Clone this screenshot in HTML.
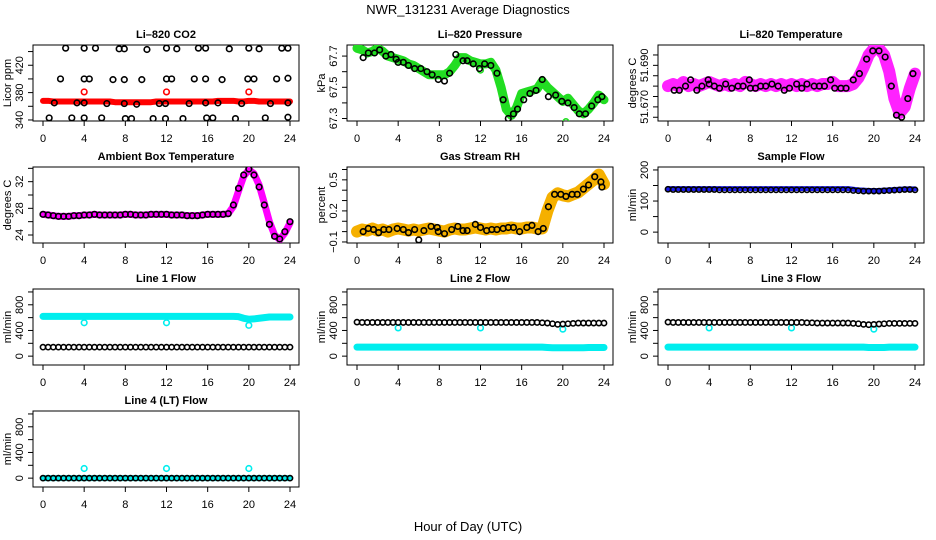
<!DOCTYPE html>
<html><head><meta charset="utf-8"><style>
html,body{margin:0;padding:0;background:#fff;}
svg{display:block;font-family:"Liberation Sans",sans-serif;}
</style></head><body>
<svg id="chart" width="936" height="540" viewBox="0 0 936 540">
<text x="468" y="14" text-anchor="middle" font-size="13">NWR_131231  Average Diagnostics</text>
<text x="468" y="531" text-anchor="middle" font-size="13">Hour of Day (UTC)</text>
</svg>
<script>
const HH=[0,0.5,1,1.5,2,2.5,3,3.5,4,4.5,5,5.5,6,6.5,7,7.5,8,8.5,9,9.5,10,10.5,11,11.5,12,12.5,13,13.5,14,14.5,15,15.5,16,16.5,17,17.5,18,18.5,19,19.5,20,20.5,21,21.5,22,22.5,23,23.5,24];
const xTicks=[0,4,8,12,16,20,24];
// CO2
const co2Band=[368,368,367,367,367,367,367,367,367,367,367,367,367,367,366,366,366,366,366,366,366,366,367,367,367,367,367,367,367,367,367,367,367,367,368,368,368,368,367,367,368,368,367,367,367,367,367,367,367];
const co2PtsH=[2.2,4,5.1,7.4,7.9,10.1,12,13,15.1,15.8,18.1,20,21,23.2,23.8, 1.7,4,4.5,6.8,7.9,9.6,12,12.5,14.7,15.8,17.4,19.9,20.5,22.7,23.8, 1.1,3.3,4,6.2,7.9,9.1,11.3,11.9,14.2,15.8,17,19.3,22.1,23.8, 0.6,2.8,4,5.7,8,8.6,10.7,11.9,13.6,15.9,16.5,18.7,21.6,23.8];
const co2PtsV=[445,445,445,444,444,443,445,444,445,445,444,445,444,445,445, 400,400,400,399,399,399,400,400,400,400,399,400,400,400,401, 365,365,365,364,364,363,364,364,364,365,365,364,364,365, 343,343,343,343,342,342,342,342,342,343,343,342,343,344];
const co2RedH=[4,12,20];
const co2RedV=[381,381,381];
// Pressure
const presBand=[67.75,67.74,67.72,67.73,67.75,67.73,67.70,67.69,67.68,67.67,67.65,67.64,67.62,67.60,67.58,67.58,67.58,67.58,67.60,67.64,67.69,67.69,67.67,67.66,67.65,67.65,67.66,67.61,67.50,67.36,67.32,67.37,67.46,67.47,67.48,67.49,67.54,67.50,67.47,67.44,67.41,67.43,67.39,67.35,67.33,67.36,67.40,67.45,67.42];
const presPtsH=[0.6,1.1,1.7,2.2,2.8,3.3,3.8,4,4.5,5,5.6,6.2,6.8,7.3,7.9,8.5,9,9.6,10.3,10.7,11.3,11.9,12.4,13,13.6,14.2,14.7,15.2,15.6,16.2,16.8,17.4,18,18.6,19.3,19.9,20.5,21.1,21.6,22.2,22.8,23.4,23.8];
const presPtsV=[67.69,67.72,67.72,67.74,67.70,67.71,67.68,67.66,67.66,67.64,67.62,67.62,67.60,67.58,67.55,67.54,67.59,67.71,67.67,67.67,67.65,67.62,67.65,67.64,67.59,67.42,67.30,67.33,67.36,67.42,67.46,67.48,67.55,67.44,67.45,67.41,67.40,67.37,67.33,67.33,67.38,67.42,67.44];
const presOutH=[4,12,20.3];
const presOutV=[67.66,67.61,67.28];
// Li-820 temperature
const tempBand=[51.680,51.681,51.680,51.682,51.680,51.681,51.680,51.681,51.682,51.681,51.680,51.681,51.680,51.681,51.680,51.682,51.681,51.680,51.681,51.680,51.681,51.680,51.681,51.680,51.681,51.680,51.681,51.680,51.681,51.680,51.681,51.681,51.682,51.680,51.680,51.680,51.681,51.684,51.689,51.695,51.698,51.698,51.695,51.687,51.674,51.667,51.670,51.679,51.686];
const tempPtsH=[0.6,1.1,1.7,2.2,2.8,3.3,3.9,4,4.5,5,5.6,6.2,6.8,7.3,7.9,8,8.5,9,9.5,10.1,10.7,11.3,11.8,12.5,13,13.5,14.2,14.7,15.2,15.8,16.2,16.8,17.3,18,18.6,19.3,19.9,20.5,21.1,21.7,22.2,22.7,23.3,23.8];
const tempPtsV=[51.678,51.678,51.680,51.683,51.678,51.680,51.683,51.681,51.680,51.679,51.681,51.679,51.680,51.680,51.683,51.679,51.679,51.680,51.680,51.681,51.680,51.678,51.679,51.681,51.679,51.681,51.680,51.680,51.680,51.683,51.679,51.679,51.679,51.683,51.686,51.693,51.697,51.697,51.694,51.680,51.666,51.665,51.674,51.686];
// Ambient
const ambBand=[27.1,27.0,26.9,26.8,26.8,26.8,26.9,26.9,27.0,27.0,27.1,27.0,27.0,27.0,27.0,27.0,27.1,27.1,27.0,27.0,27.0,27.1,27.1,27.1,27.1,27.0,27.0,27.0,26.9,26.9,26.9,27.0,27.1,27.1,27.1,27.1,27.2,28.3,30.6,32.8,33.8,33.2,31.5,28.8,26.0,24.0,23.3,24.3,25.8];
const ambPtsV=[27.1,27.0,26.9,26.8,26.8,26.8,26.9,26.9,27.0,27.0,27.1,27.0,27.0,27.0,27.0,27.0,27.1,27.1,27.0,27.0,27.0,27.1,27.1,27.1,27.1,27.0,27.0,27.0,26.9,26.9,26.9,27.0,27.1,27.1,27.1,27.1,27.2,28.5,31.0,33.0,33.9,33.0,31.2,28.5,25.6,23.8,23.4,24.5,26.0];
// RH
const rhBand=[0.00,0.02,0.01,0.03,0.01,0.02,0.00,0.02,0.03,0.02,0.01,0.02,0.01,0.02,0.03,0.02,0.01,0.00,0.02,0.03,0.02,0.02,0.03,0.04,0.03,0.02,0.03,0.02,0.03,0.03,0.04,0.03,0.03,0.04,0.04,0.03,0.03,0.20,0.33,0.37,0.35,0.34,0.36,0.38,0.42,0.46,0.50,0.55,0.46];
const rhPtsH=[0.6,1.1,1.6,2.1,2.6,3.1,3.9,4.5,5.0,5.6,6.0,6.5,7.2,7.8,7.9,8.5,9.2,9.8,10.3,10.7,11.5,12,12.6,13.1,13.6,14.2,14.7,15.2,15.8,16.5,17.0,17.6,18.1,18.6,19.2,19.8,20.3,20.9,21.4,22.0,22.5,23.1,23.7,23.8];
const rhPtsV=[0.00,0.03,0.02,-0.01,0.02,0.02,0.03,0.02,-0.01,0.02,-0.08,0.01,0.05,0.04,0.00,-0.02,0.02,0.05,0.01,0.01,0.07,0.04,0.01,0.02,0.02,0.03,0.04,0.04,0.00,0.04,0.06,0.00,0.03,0.24,0.36,0.36,0.34,0.36,0.36,0.41,0.45,0.53,0.48,0.43];
// Sample flow
const sfBand=[140,140,140,140,140,140,140,140,140,140,140,140,140,140,140,140,140,140,140,140,140,140,140,140,140,140,140,140,140,140,140,140,140,140,140,140,138,136,135,134,134,134,135,136,137,138,139,139,139];
const sfPts=[138,137,137,137,137,137,137,137,137,137,136,136,136,136,136,136,136,136,136,136,136,136,136,136,136,136,136,136,136,136,136,136,136,136,136,136,134,133,132,132,132,132,133,134,135,136,137,137,136];
// Line 1
const l1Cyan=[620,620,620,620,620,620,620,620,620,620,620,620,620,620,620,620,620,620,620,620,620,620,620,620,620,620,620,620,620,620,620,620,620,620,620,620,620,620,615,590,575,580,590,600,610,610,610,610,610];
const l1Black=[140,140,140,140,140,140,140,140,140,140,140,140,140,140,140,140,140,140,140,140,140,140,140,140,140,140,140,140,140,140,140,140,140,140,140,140,140,140,140,140,140,140,140,140,140,140,140,140,140];
const l1OutH=[4,12,20];
const l1OutV=[520,520,480];
// Line 2
const l2Cyan=[140,140,140,140,140,140,140,140,140,140,140,140,140,140,140,140,140,140,140,140,140,140,140,140,140,140,140,140,140,140,140,140,140,140,140,140,140,135,130,130,130,130,130,130,130,135,135,135,135];
const l2Black=[530,525,525,525,525,525,525,525,525,525,525,525,525,525,525,525,525,525,525,525,525,525,525,525,525,525,525,525,525,525,525,525,525,525,525,525,520,515,505,495,500,505,510,515,515,515,515,515,515];
const l2OutH=[4,12,20];
const l2OutV=[440,440,420];
// Line 3
const l3Cyan=[140,140,140,140,140,140,140,140,140,140,140,140,140,140,140,140,140,140,140,140,140,140,140,140,140,140,140,140,140,140,140,140,140,140,140,140,140,140,140,135,135,135,135,140,140,140,140,140,140];
const l3Black=[530,525,525,525,525,525,525,525,525,525,525,525,525,525,525,525,525,525,525,525,525,525,525,525,525,525,525,520,520,515,515,515,515,515,515,515,510,505,495,490,495,500,505,510,510,510,510,510,510];
const l3OutH=[4,12,20];
const l3OutV=[440,440,420];
// Line 4
const l4Cyan=[0,0,0,0,0,0,0,0,0,0,0,0,0,0,0,0,0,0,0,0,0,0,0,0,0,0,0,0,0,0,0,0,0,0,0,0,0,0,0,0,0,0,0,0,0,0,0,0,0];
const l4Black=[0,0,0,0,0,0,0,0,0,0,0,0,0,0,0,0,0,0,0,0,0,0,0,0,0,0,0,0,0,0,0,0,0,0,0,0,0,0,0,0,0,0,0,0,0,0,0,0,0];
const l4OutH=[4,12,20];
const l4OutV=[150,150,150];

const NS="http://www.w3.org/2000/svg";
const svg=document.getElementById('chart');
function mk(tag,attrs,parent){const e=document.createElementNS(NS,tag);for(const k in attrs)e.setAttribute(k,attrs[k]);(parent||svg).appendChild(e);return e;}
const colL=[33,347,658], rowT=[45,167,289,411], PW=266, PH=76;

function panel(key,title,col,row,ylim,yticks,ylabs,ytitle){
  const L=colL[col],T=rowT[row],B=T+PH,R=L+PW;
  const g=mk('g',{});
  
  
  const sx=h=>L+10+h*(PW-19)/24;
  const sy=v=>B-(v-ylim[0])/(ylim[1]-ylim[0])*PH;
  const t=mk('text',{x:(L+R)/2,y:T-7,'text-anchor':'middle','font-size':11,'font-weight':'bold'},g);t.textContent=title;
  
  
  const box=mk('rect',{x:L,y:T,width:PW,height:PH,fill:'none',stroke:'#000','stroke-width':1},g);
  
  
  const xa=mk('g',{},g);
  
  
  mk('line',{x1:sx(0),x2:sx(24),y1:B,y2:B,stroke:'#000'},xa);
  xTicks.forEach(h=>{mk('line',{x1:sx(h),x2:sx(h),y1:B,y2:B+5,stroke:'#000'},xa);
    const tx=mk('text',{x:sx(h),y:B+21,'text-anchor':'middle','font-size':11},xa);tx.textContent=h;});
  const ya=mk('g',{},g);
  
  
  mk('line',{x1:L,x2:L,y1:sy(yticks[0]),y2:sy(yticks[yticks.length-1]),stroke:'#000'},ya);
  yticks.forEach((v,i)=>{const y=sy(v);mk('line',{x1:L-5,x2:L,y1:y,y2:y,stroke:'#000'},ya);
    if(ylabs[i]){const tx=mk('text',{x:L-10,y:y,'text-anchor':'middle','font-size':11,transform:`rotate(-90 ${L-10} ${y})`},ya);tx.textContent=ylabs[i];}});
  const yt=mk('text',{x:L-22,y:(T+B)/2,'text-anchor':'middle','font-size':11,transform:`rotate(-90 ${L-22} ${(T+B)/2})`},g);yt.textContent=ytitle;
  
  
  const clip=mk('clipPath',{id:'c'+key},g);mk('rect',{x:L,y:T,width:PW,height:PH},clip);
  const plot=mk('g',{'clip-path':`url(#c${key})`},g);
  return {
    band(hs,vs,color,w,name){const p=mk('polyline',{points:hs.map((h,i)=>sx(h)+','+sy(vs[i])).join(' '),fill:'none',stroke:color,'stroke-width':w,'stroke-linejoin':'round','stroke-linecap':'round'},plot);
      
      },
    pts(hs,vs,color,name,r){const pg=mk('g',{},plot);
      
      
      hs.forEach((h,i)=>mk('circle',{cx:sx(h),cy:sy(vs[i]),r:r||2.8,fill:'none',stroke:color,'stroke-width':1.6},pg));}
  };
}
let p;
p=panel('co2','Li\u2013820 CO2',0,0,[338.5,449.6],[340,360,380,400,420,440],['340','','380','','420',''],'Licor ppm');
p.band(HH,co2Band,'#ff0000',6,'co2-band');p.pts(co2PtsH,co2PtsV,'#000','co2-points');p.pts(co2RedH,co2RedV,'#ff0000','co2-red-points');
p=panel('pressure','Li\u2013820 Pressure',1,0,[67.284,67.771],[67.3,67.4,67.5,67.6,67.7],['67.3','','67.5','','67.7'],'kPa');
p.band(HH,presBand,'#22dd22',9,'pressure-band');p.pts(presOutH,presOutV,'#22dd22','pressure-outliers');p.pts(presPtsH,presPtsV,'#000','pressure-points');
p=panel('temperature','Li\u2013820 Temperature',2,0,[51.6632,51.6998],[51.665,51.670,51.675,51.680,51.685,51.690,51.695],['','51.670','','','','51.690',''],'degrees C');
p.band(HH,tempBand,'#ff22ff',12,'temperature-band');p.pts(tempPtsH,tempPtsV,'#000','temperature-points');
p=panel('ambient','Ambient Box Temperature',0,1,[22.8,34.2],[24,26,28,30,32,34],['24','','28','','32',''],'degrees C');
p.band(HH,ambBand,'#ff00ff',7,'ambient-band');p.pts(HH,ambPtsV,'#000','ambient-points');
p=panel('rh','Gas Stream RH',1,1,[-0.11,0.624],[-0.1,0,0.1,0.2,0.3,0.4,0.5,0.6],['\u22120.1','','','0.2','','','0.5',''],'percent');
p.band(HH,rhBand,'#f5b000',12,'rh-band');p.pts(rhPtsH,rhPtsV,'#000','rh-points');
p=panel('sampleflow','Sample Flow',2,1,[-35,209.5],[0,50,100,150,200],['0','','100','','200'],'ml/min');
p.band(HH,sfBand,'#1a1aee',5,'sample-flow-band');p.pts(HH,sfPts,'#000','sample-flow-points',2.6);
const fT=[0,200,400,600,800,1000],fL=['0','','400','','800',''],fY=[-138,1046];
p=panel('line1','Line 1 Flow',0,2,fY,fT,fL,'ml/min');
p.band(HH,l1Cyan,'#00eeee',7,'line1-cyan-band');p.pts(l1OutH,l1OutV,'#00eeee','line1-cyan-outliers');p.pts(HH,l1Black,'#000','line1-black-points',2.6);
p=panel('line2','Line 2 Flow',1,2,fY,fT,fL,'ml/min');
p.band(HH,l2Cyan,'#00eeee',7,'line2-cyan-band');p.pts(l2OutH,l2OutV,'#00eeee','line2-cyan-outliers');p.pts(HH,l2Black,'#000','line2-black-points',2.6);
p=panel('line3','Line 3 Flow',2,2,fY,fT,fL,'ml/min');
p.band(HH,l3Cyan,'#00eeee',7,'line3-cyan-band');p.pts(l3OutH,l3OutV,'#00eeee','line3-cyan-outliers');p.pts(HH,l3Black,'#000','line3-black-points',2.6);
p=panel('line4','Line 4 (LT) Flow',0,3,fY,fT,fL,'ml/min');
p.band(HH,l4Cyan,'#00eeee',6,'line4-cyan-band');p.pts(l4OutH,l4OutV,'#00eeee','line4-cyan-outliers');p.pts(HH,l4Black,'#000','line4-black-points',2.6);
</script>
</body></html>
